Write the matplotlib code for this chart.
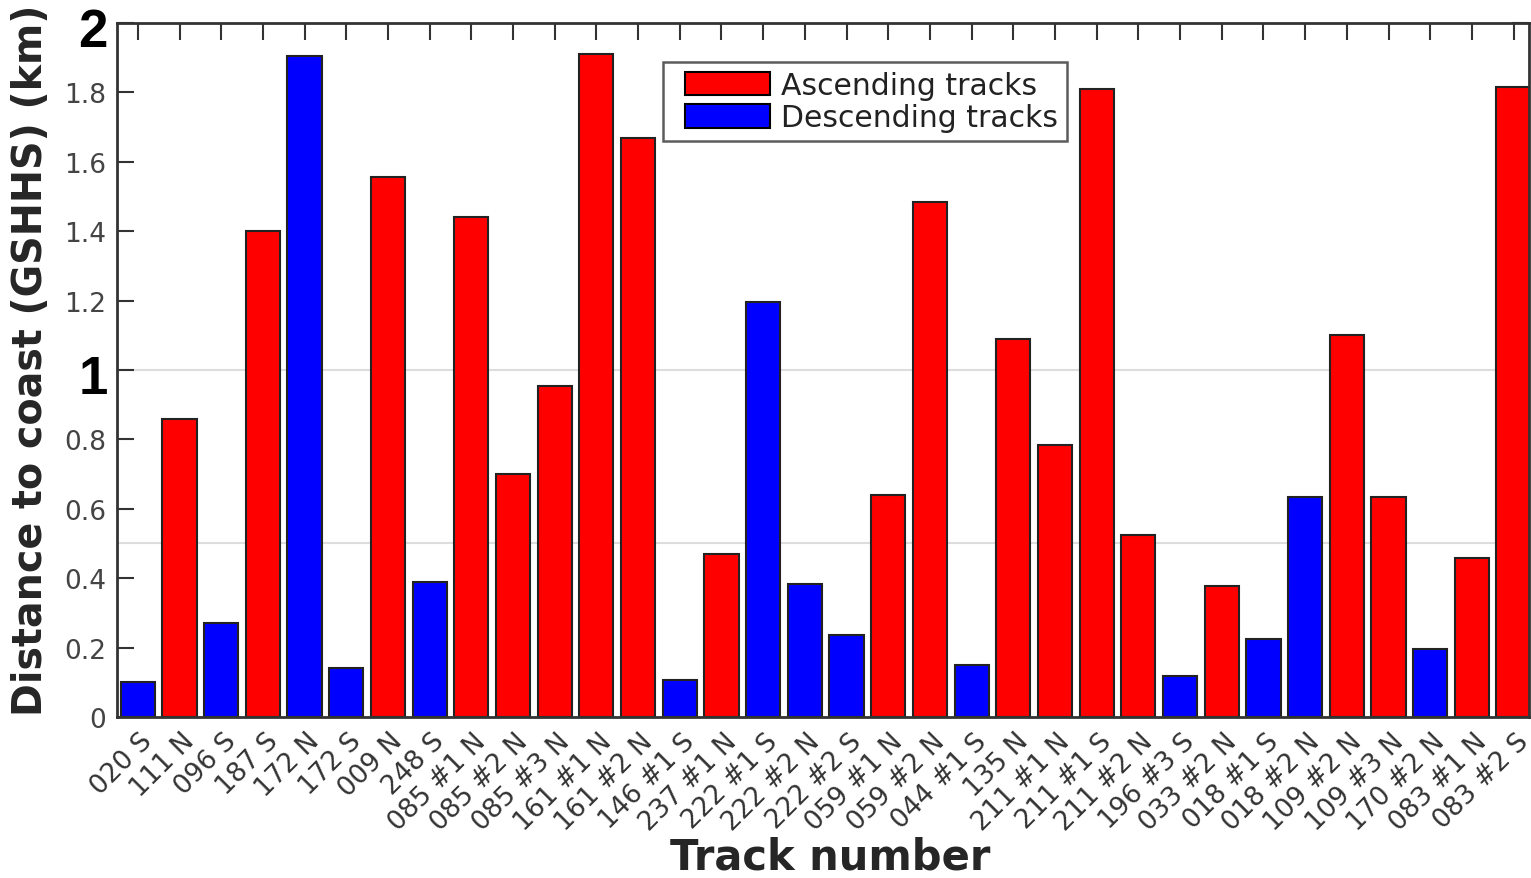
import matplotlib
matplotlib.use("Agg")
import matplotlib.pyplot as plt
import matplotlib.transforms as mtransforms
from matplotlib.patches import Patch, Rectangle
from matplotlib.legend_handler import HandlerPatch

# track labels, distances (km) and pass direction (A = ascending, D = descending)
tracks = ["020 S", "111 N", "096 S", "187 S", "172 N", "172 S", "009 N", "248 S",
          "085 #1 N", "085 #2 N", "085 #3 N", "161 #1 N", "161 #2 N", "146 #1 S",
          "237 #1 N", "222 #1 S", "222 #2 N", "222 #2 S", "059 #1 N", "059 #2 N",
          "044 #1 S", "135 N", "211 #1 N", "211 #1 S", "211 #2 N", "196 #3 S",
          "033 #2 N", "018 #1 S", "018 #2 N", "109 #2 N", "109 #3 N", "170 #2 N",
          "083 #1 N", "083 #2 S"]
distance = [0.10, 0.86, 0.27, 1.40, 1.905, 0.14, 1.555, 0.39,
            1.44, 0.70, 0.955, 1.912, 1.668, 0.107,
            0.47, 1.195, 0.383, 0.236, 0.64, 1.484,
            0.15, 1.088, 0.783, 1.81, 0.524, 0.118,
            0.377, 0.224, 0.635, 1.10, 0.635, 0.197,
            0.459, 1.815]
direction = ["D", "A", "D", "A", "D", "D", "A", "D",
             "A", "A", "A", "A", "A", "D",
             "A", "D", "D", "D", "A", "A",
             "D", "A", "A", "A", "A", "D",
             "A", "D", "D", "A", "A", "D",
             "A", "A"]

ytick_vals = [0, 0.2, 0.4, 0.6, 0.8, 1.0, 1.2, 1.4, 1.6, 1.8, 2.0]
ytick_labels = ["0", "0.2", "0.4", "0.6", "0.8", "", "1.2", "1.4", "1.6", "1.8", ""]
big_labels = {"1": 1.0, "2": 2.0}

col = {"A": "#ff0000", "D": "#0000ff"}
dark = "#333333"


def offset_box(legend, orig_handle, xdescent, ydescent, width, height, fontsize):
    # leave a little room on the left of the swatch like the original legend
    gap = 9
    return Rectangle((-xdescent + gap, -ydescent), width - gap, height)


fig = plt.figure(figsize=(15.31, 8.79), dpi=100)
ax = fig.add_axes([0.0764, 0.1832, 0.9223, 0.7895])

x = list(range(1, len(tracks) + 1))
colors = [col[d] for d in direction]
ax.bar(x, distance, width=0.82, color=colors, edgecolor="#222222", linewidth=1.5, zorder=3)

# faint reference lines
for yv in [0.5, 1.0]:
    ax.axhline(yv, color="#dddddd", linewidth=1.5, zorder=1)

ax.set_xlim(0.5, 34.37)
ax.set_ylim(0, 2)

# x tick labels drawn as texts so they can sit a bit right of the ticks
ax.set_xticks(x)
ax.set_xticklabels([])
xlab_trans = (mtransforms.blended_transform_factory(ax.transData, ax.transAxes)
              + mtransforms.ScaledTranslation(0.11, -0.20, fig.dpi_scale_trans))
for xi, name in zip(x, tracks):
    ax.text(xi, 0, name, transform=xlab_trans, rotation=45, ha="right", va="center",
            rotation_mode="anchor", fontsize=19, color="#333333", clip_on=False)

ax.set_yticks(ytick_vals)
ax.set_yticklabels(ytick_labels, fontsize=19, color="#444444")

ylab_trans = mtransforms.blended_transform_factory(ax.transAxes, ax.transData)
for txt, yv in big_labels.items():
    ax.text(-0.0065, yv - 0.027, txt, transform=ylab_trans, ha="right", va="center",
            fontsize=38, fontweight="bold", family="Liberation Sans", color="black")

ax.tick_params(axis="both", direction="in", length=12, width=1.5, color=dark,
               top=True, right=True)
ax.tick_params(axis="y", pad=8)

for s in ax.spines.values():
    s.set_color(dark)
    s.set_linewidth(2)
    s.set_zorder(5)

ax.set_xlabel("Track number", fontsize=30, fontweight="bold", color="#262626", va="baseline")
ax.xaxis.set_label_coords(0.505, -0.219)
ax.set_ylabel("Distance to coast (GSHHS) (km)", fontsize=28.5, fontweight="bold",
              color="#262626")
ax.yaxis.set_label_coords(-0.047, 0.515)

handles = [Patch(facecolor=col["A"], edgecolor="black", linewidth=1.5, label="Ascending tracks"),
           Patch(facecolor=col["D"], edgecolor="black", linewidth=1.5, label="Descending tracks")]
leg = ax.legend(handles=handles, loc="upper left", bbox_to_anchor=(0.387, 0.944),
                fontsize=21.5, frameon=True, fancybox=False, handlelength=3.28,
                handleheight=0.85, handletextpad=0.35, borderpad=0.3,
                labelspacing=0.12, borderaxespad=0,
                handler_map={Patch: HandlerPatch(patch_func=offset_box)})
leg.get_frame().set_edgecolor(dark)
leg.get_frame().set_linewidth(1.8)
for t in leg.get_texts():
    t.set_color("#222222")
leg.set_zorder(6)

fig.savefig("out.png", dpi=100)
